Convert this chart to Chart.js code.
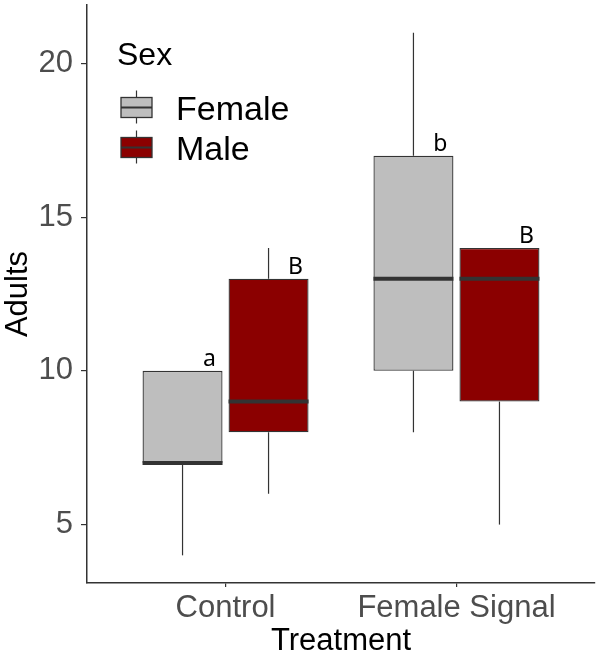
<!DOCTYPE html>
<html>
<head>
<meta charset="utf-8">
<script src="https://cdn.jsdelivr.net/npm/chart.js@4.4.1/dist/chart.umd.min.js"></script>
<style>
  html, body { margin: 0; padding: 0; background: #fff; }
</style>
</head>
<body>
<canvas id="box_chart" width="600" height="660"></canvas>
<script>
// treatments on the x axis
var treatments = ['Control', 'Female Signal'];
var sexes = ['Female', 'Male'];

// five-number summaries, one value per treatment
var femaleMin = [4, 8];
var femaleQ1 = [7, 10];
var femaleMedian = [7, 13];
var femaleQ3 = [10, 17];
var femaleMax = [10, 21];

var maleMin = [6, 5];
var maleQ1 = [8, 9];
var maleMedian = [9, 13];
var maleQ3 = [13, 14];
var maleMax = [14, 14];

// significance letters above the boxes
var femaleLetters = ['a', 'b'];
var maleLetters = ['B', 'B'];

var yTicks = [5, 10, 15, 20];

var FONT = '"Liberation Sans", Arial, sans-serif';

function boxData(q1, q3) {
    return treatments.map(function(t, i) {
        return { x: i + 1, y: [q1[i], q3[i]] };
    });
}

// whiskers, medians, letters and the legend
var boxExtras = {
    id: 'boxExtras',
    afterDatasetsDraw: function(chart) {
        var ctx = chart.ctx;
        var yScale = chart.scales.y;
        chart.data.datasets.forEach(function(ds, d) {
            var meta = chart.getDatasetMeta(d);
            meta.data.forEach(function(bar, i) {
                var p = bar.getProps(['x', 'width'], true);
                var left = p.x - p.width / 2;
                var right = p.x + p.width / 2;
                ctx.save();
                ctx.strokeStyle = '#333333';
                ctx.lineWidth = 1.2;
                ctx.beginPath();
                ctx.moveTo(p.x, yScale.getPixelForValue(ds.q3[i]));
                ctx.lineTo(p.x, yScale.getPixelForValue(ds.max[i]));
                ctx.moveTo(p.x, yScale.getPixelForValue(ds.q1[i]));
                ctx.lineTo(p.x, yScale.getPixelForValue(ds.min[i]));
                ctx.stroke();

                var my = yScale.getPixelForValue(ds.median[i]);
                ctx.lineWidth = 4;
                ctx.beginPath();
                ctx.moveTo(left, my);
                ctx.lineTo(right, my);
                ctx.stroke();

                ctx.fillStyle = '#000';
                ctx.font = '23px "Noto Sans", sans-serif';
                ctx.textAlign = 'center';
                ctx.textBaseline = 'alphabetic';
                ctx.fillText(ds.letters[i], right - 13, yScale.getPixelForValue(ds.q3[i]) - 5);
                ctx.restore();
            });
        });

        // legend
        ctx.save();
        ctx.fillStyle = '#000';
        ctx.font = '32px ' + FONT;
        ctx.textAlign = 'left';
        ctx.textBaseline = 'alphabetic';
        ctx.fillText('Sex', 117, 65);
        chart.data.datasets.forEach(function(ds, d) {
            var cy = 107.5 + d * 40;
            ctx.strokeStyle = '#333333';
            ctx.lineWidth = 1.2;
            ctx.beginPath();
            ctx.moveTo(136.5, cy - 17);
            ctx.lineTo(136.5, cy + 16);
            ctx.stroke();
            ctx.fillStyle = ds.backgroundColor;
            ctx.fillRect(121, cy - 10, 31, 20);
            ctx.lineWidth = 1.3;
            ctx.strokeRect(121, cy - 10, 31, 20);
            ctx.lineWidth = 2;
            ctx.beginPath();
            ctx.moveTo(121, cy);
            ctx.lineTo(152, cy);
            ctx.stroke();
            ctx.fillStyle = '#000';
            ctx.font = '34px ' + FONT;
            ctx.textBaseline = 'middle';
            ctx.fillText(ds.label, 176, cy + 3);
        });
        ctx.restore();
    }
};

document.addEventListener("DOMContentLoaded", function() {
    var mychart = document.getElementById('box_chart').getContext('2d');

    var chartData = {
        datasets: [{
            label: sexes[0],
            data: boxData(femaleQ1, femaleQ3),
            backgroundColor: '#BEBEBE',
            min: femaleMin, q1: femaleQ1, median: femaleMedian, q3: femaleQ3, max: femaleMax,
            letters: femaleLetters
        }, {
            label: sexes[1],
            data: boxData(maleQ1, maleQ3),
            backgroundColor: '#8B0000',
            min: maleMin, q1: maleQ1, median: maleMedian, q3: maleQ3, max: maleMax,
            letters: maleLetters
        }]
    };

    new Chart(mychart, {
        type: 'bar',
        data: chartData,
        plugins: [boxExtras],
        options: {
            responsive: false,
            animation: false,
            devicePixelRatio: 1,
            layout: { padding: { top: 5, right: 5, left: 0, bottom: 0 } },
            datasets: {
                bar: {
                    categoryPercentage: 0.745,
                    barPercentage: 0.93,
                    borderWidth: 1.3,
                    borderColor: '#333333',
                    borderSkipped: false
                }
            },
            plugins: {
                legend: { display: false },
                tooltip: { enabled: false }
            },
            scales: {
                x: {
                    type: 'linear',
                    min: 0.4,
                    max: 2.6,
                    offset: false,
                    afterBuildTicks: function(s) {
                        s.ticks = treatments.map(function(t, i) { return { value: i + 1 }; });
                    },
                    afterFit: function(s) { s.height = 77; s.paddingLeft = 0; s.paddingRight = 0; },
                    grid: { offset: false, drawOnChartArea: false, tickLength: 4, color: '#333333', lineWidth: 1.2 },
                    border: { display: true, color: '#333333', width: 1.5 },
                    ticks: {
                        color: '#4D4D4D',
                        font: { family: FONT, size: 31 },
                        padding: 3,
                        autoSkip: false,
                        maxRotation: 0,
                        callback: function(v) { return treatments[v - 1]; }
                    },
                    title: { display: true, text: 'Treatment', color: '#000', font: { family: FONT, size: 31 }, padding: { top: 0, bottom: 0 } }
                },
                y: {
                    min: 3.1,
                    max: 21.9,
                    afterBuildTicks: function(s) {
                        s.ticks = yTicks.map(function(v) { return { value: v }; });
                    },
                    afterFit: function(s) { s.width = 87; s.paddingTop = 0; s.paddingBottom = 0; },
                    grid: { drawOnChartArea: false, tickLength: 6, color: '#333333', lineWidth: 1.2 },
                    border: { display: true, color: '#333333', width: 1.5 },
                    ticks: { color: '#4D4D4D', font: { family: FONT, size: 31 }, padding: 8 },
                    title: { display: true, text: 'Adults', color: '#000', font: { family: FONT, size: 31 }, padding: 0 }
                }
            }
        }
    });
});
</script>
</body>
</html>
